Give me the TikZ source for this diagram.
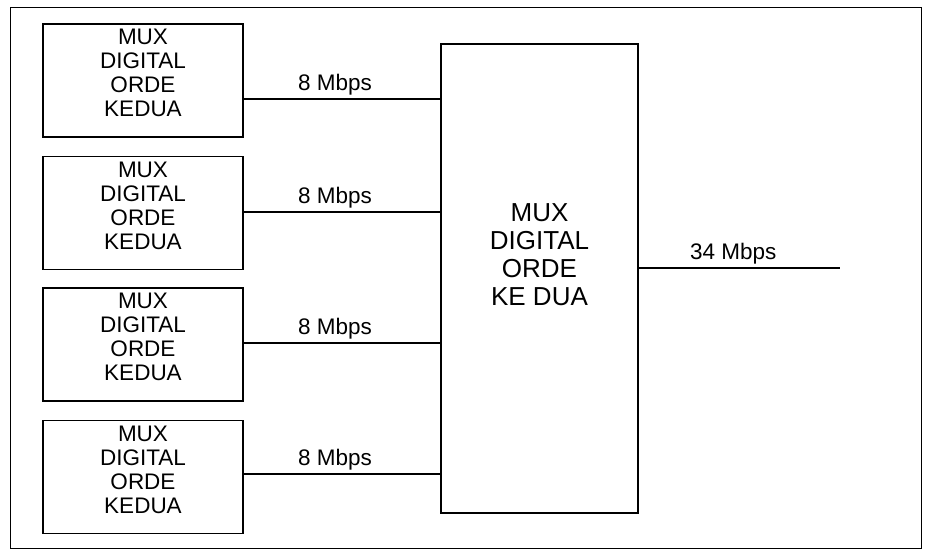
\documentclass[tikz,border=0pt]{standalone}
\usepackage{fontspec}
\setmainfont{Liberation Sans}

\begin{document}
\begin{tikzpicture}[x=1pt, y=-1pt,
        every node/.style={font=\fontsize{22.5}{24}\selectfont},
        muxbox/.style={draw, line width=1.1pt, minimum width=200pt,
            minimum height=113pt, inner sep=0pt},
        muxtext/.style={align=center, inner sep=0pt},
        bigtext/.style={align=center, inner sep=0pt,
            font=\fontsize{26}{28}\selectfont},
        rate/.style={above, inner sep=3.5pt},
        link/.style={line width=1.1pt}]
      \useasboundingbox (0,0) rectangle (926,550);
      \draw[line width=1pt] (10,7) rectangle (921,548);
      \node[draw, line width=1.2pt, minimum width=197pt, minimum height=469pt,
            inner sep=0pt] (MUX) at (539.5,278.5) {};
      \node[bigtext] (MUXtext) at ([yshift=24pt]MUX.center)
            {MUX\\DIGITAL\\ORDE\\KE DUA};
      \foreach \i/\y/\ly in {1/80.5/99, 2/213/212, 3/344.5/343, 4/477/474} {
        \node[muxbox] (B\i) at (143,\y) {};
        \node[muxtext] (T\i) at ([yshift=7.5pt]B\i.center)
              {MUX\\DIGITAL\\ORDE\\KEDUA};
        \draw[link] (B\i.east |- 0,\ly) -- (MUX.west |- 0,\ly)
              node[rate, midway, xshift=-7pt] {8 Mbps};
      }
      % output of the second order mux
      \coordinate (OUT) at (840,268);
      \draw[link] (MUX.east |- OUT) -- (OUT)
            node[rate, midway, xshift=-6pt] {34 Mbps};
    \end{tikzpicture}
\end{document}
